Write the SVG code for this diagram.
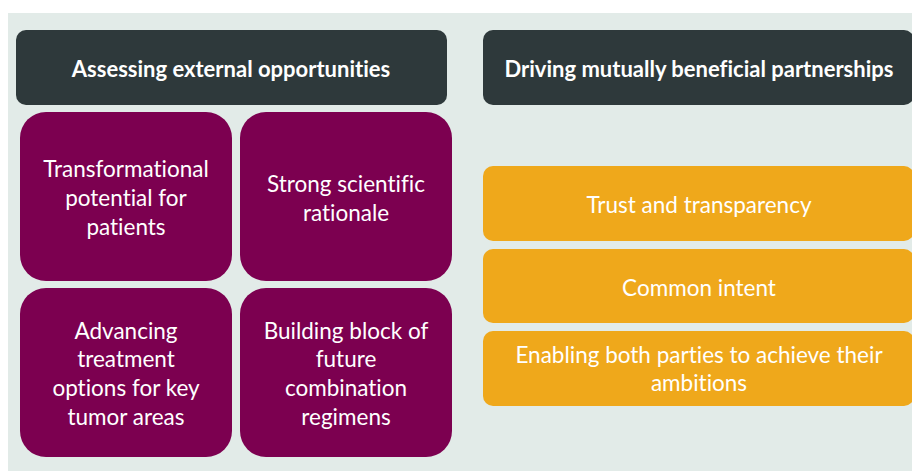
<svg xmlns="http://www.w3.org/2000/svg" width="912" height="473" viewBox="0 0 912 473">
  <style>
    .hdr { fill: #2e393b; }
    .crit { fill: #7c0050; }
    .part { fill: #efa81b; }
    text { font-family: "Lato", "Liberation Sans", sans-serif; fill: #ffffff; text-anchor: middle; dominant-baseline: central; font-variant-ligatures: none; }
    .h { font-size: 22px; font-weight: bold; }
    .b { font-size: 22.5px; }
  </style>
  <rect x="0" y="0" width="912" height="473" fill="#ffffff"/>
  <rect x="8" y="13" width="904" height="458" fill="#e2ebe8"/>

  <g id="header-assessing">
    <rect class="hdr" x="16" y="30" width="431" height="75" rx="10"/>
    <text class="h" x="231" y="68">Assessing external opportunities</text>
  </g>
  <g id="header-driving">
    <rect class="hdr" x="483" y="30" width="431" height="75" rx="10"/>
    <text class="h" x="699" y="68">Driving mutually beneficial partnerships</text>
  </g>

  <g id="transformational">
    <rect class="crit" x="20" y="112" width="212" height="169" rx="26"/>
    <text class="b" x="126" y="168">Transformational</text>
    <text class="b" x="126" y="197">potential for</text>
    <text class="b" x="126" y="226">patients</text>
  </g>
  <g id="scientific">
    <rect class="crit" x="240" y="112" width="212" height="169" rx="26"/>
    <text class="b" x="346" y="183">Strong scientific</text>
    <text class="b" x="346" y="212">rationale</text>
  </g>
  <g id="advancing">
    <rect class="crit" x="20" y="288" width="212" height="169" rx="26"/>
    <text class="b" x="126" y="330">Advancing</text>
    <text class="b" x="126" y="358">treatment</text>
    <text class="b" x="126" y="387">options for key</text>
    <text class="b" x="126" y="416">tumor areas</text>
  </g>
  <g id="building-block">
    <rect class="crit" x="240" y="288" width="212" height="169" rx="26"/>
    <text class="b" x="346" y="330">Building block of</text>
    <text class="b" x="346" y="358">future</text>
    <text class="b" x="346" y="387">combination</text>
    <text class="b" x="346" y="416">regimens</text>
  </g>

  <g id="trust">
    <rect class="part" x="483" y="166" width="431" height="75" rx="10"/>
    <text class="b" x="699" y="204">Trust and transparency</text>
  </g>
  <g id="common-intent">
    <rect class="part" x="483" y="249" width="431" height="74" rx="10"/>
    <text class="b" x="699" y="287">Common intent</text>
  </g>
  <g id="ambitions">
    <rect class="part" x="483" y="331" width="431" height="75" rx="10"/>
    <text class="b" x="699" y="354">Enabling both parties to achieve their</text>
    <text class="b" x="699" y="382">ambitions</text>
  </g>

  <g id="connectors"/>
</svg>
